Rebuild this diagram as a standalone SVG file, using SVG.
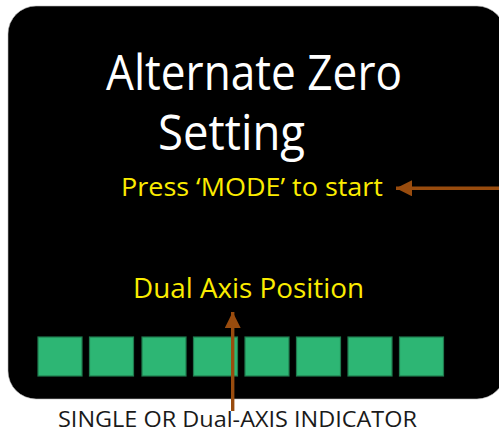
<svg xmlns="http://www.w3.org/2000/svg" width="499" height="432" viewBox="0 0 499 432">
<defs>
<style>
.panel{fill:#000;stroke:#bbb;stroke-width:0.6}
.led{fill:#2db674;stroke:#1f7a4e;stroke-width:1.2}
.title{font-family:"Open Sans","Liberation Sans",sans-serif;fill:#fff;font-size:49px}
.yel{font-family:"Open Sans","Liberation Sans",sans-serif;fill:#fbec00}
.lbl{font-family:"Open Sans","Liberation Sans",sans-serif;fill:#1a1a1a;font-size:21px}
.conn{stroke:#994c0e;stroke-width:3.4;fill:none}
</style>
<marker id="ah" markerUnits="userSpaceOnUse" markerWidth="18" markerHeight="16" refX="16" refY="8" orient="auto">
<path d="M0,0 L16,8 L0,16 Z" fill="#994c0e"/>
</marker>
</defs>
<rect id="background" x="0" y="0" width="499" height="432" fill="#fff"/>
<g id="panel">
<rect class="panel" x="8" y="6" width="497" height="393" rx="28" ry="28"/>
</g>
<g id="title">
<text class="title" x="106" y="90" textLength="296" lengthAdjust="spacingAndGlyphs">Alternate Zero</text>
<text class="title" x="158" y="150" textLength="147" lengthAdjust="spacingAndGlyphs">Setting</text>
</g>
<g id="press-mode">
<text class="yel" x="121" y="196" font-size="26" textLength="262" lengthAdjust="spacingAndGlyphs">Press ‘MODE’ to start</text>
</g>
<g id="dual-axis-position">
<text class="yel" x="133" y="298" font-size="28" textLength="231" lengthAdjust="spacingAndGlyphs">Dual Axis Position</text>
</g>
<g id="indicator-bar">
<rect class="led" x="38" y="337" width="44" height="39"/>
<rect class="led" x="89.5" y="337" width="44" height="39"/>
<rect class="led" x="142" y="337" width="44" height="39"/>
<rect class="led" x="193.5" y="337" width="44" height="39"/>
<rect class="led" x="245" y="337" width="44" height="39"/>
<rect class="led" x="296.5" y="337" width="44" height="39"/>
<rect class="led" x="348" y="337" width="44" height="39"/>
<rect class="led" x="399.5" y="337" width="44" height="39"/>
</g>
<g id="indicator-label">
<text class="lbl" x="58" y="427" textLength="359" lengthAdjust="spacingAndGlyphs">SINGLE OR Dual-AXIS INDICATOR</text>
</g>
<g id="connectors">
<line class="conn" x1="499" y1="188.3" x2="396" y2="188.3" marker-end="url(#ah)"/>
<line class="conn" x1="232.7" y1="411" x2="232.7" y2="312" marker-end="url(#ah)"/>
</g>
</svg>
